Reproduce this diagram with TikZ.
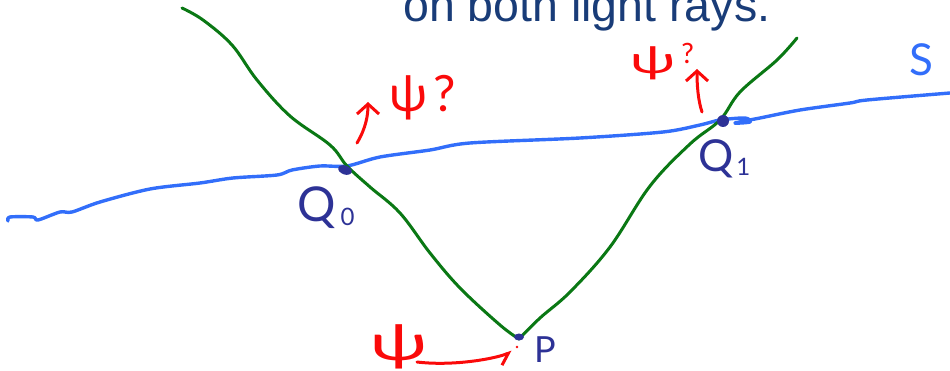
\documentclass[tikz,border=0pt]{standalone}
\usepackage{fontspec}
\setmainfont{Lato}
\newfontfamily\titlefont{Liberation Sans}
\usetikzlibrary{arrows.meta}
\definecolor{raygreen}{RGB}{10,120,20}
\definecolor{surfblue}{RGB}{50,110,250}
\definecolor{navy}{RGB}{45,50,150}
\definecolor{penred}{RGB}{250,10,10}
\definecolor{titleblue}{RGB}{25,60,120}
\begin{document}
\begin{tikzpicture}[x=1pt,y=-1pt,
  ray/.style={draw=raygreen, line width=3pt, line cap=round, line join=round},
  surf/.style={draw=surfblue, line width=3.4pt, line cap=round, line join=round},
  hand/.style={draw=penred, line width=3pt, line cap=round, line join=round},
  barb/.style={-{Straight Barb[length=10pt,width=22pt,line width=3pt]}},
  lbl/.style={text=navy, inner sep=0pt},
  redlbl/.style={text=penred, inner sep=0pt},
  blob/.style={fill=navy}]
\useasboundingbox (0,0) rectangle (950,371);
% title (cut at top, as in the reference)
\node[anchor=base west, inner sep=0pt, text=titleblue, font=\titlefont\fontsize{46.5}{46.5}\selectfont] (title) at (403,22) {on both light rays.};
% key points
\coordinate (Q0) at (347,166);
\coordinate (Q1) at (720,120);
\coordinate (P) at (519,339);
\coordinate (L0) at (182,8);
\coordinate (R0) at (797,38);
\coordinate (Sa) at (8,221);
\coordinate (Sb) at (950,93);
% surface S
\draw[surf] plot[smooth, tension=0.5] coordinates {(Sa) (10,217) (33,217) (38,220) (60,212) (72,212) (100,202) (150,189) (200,183) (233,178) (277,175) (292,170) (320,166) (Q0) (380,157) (430,150) (470,143) (580,138) (663,132) (700,125) (Q1) (745,118) (750,122) (735,123) (760,118) (800,110) (850,103) (867,100) (Sb)};
% light rays
\draw[ray] plot[smooth, tension=0.6] coordinates {(L0) (203,20) (232,45) (257,80) (290,116) (330,145) (Q0) (370,187) (400,213) (430,253) (460,288) (500,325) (P)};
\draw[ray] plot[smooth, tension=0.6] coordinates {(P) (540,318) (570,292) (610,247) (650,186) (690,144) (Q1) (740,92) (777,60) (R0)};
% blobs
\fill[blob, rotate around={-20:(345,170)}] (345,170) ellipse (7pt and 4.5pt);
\fill[blob] (723,121) circle (6pt);
\fill[blob] (519,337) ellipse (5pt and 3.5pt);
\fill[penred] (517,347) circle (1.3pt);
% labels
\node[lbl, anchor=base west, font=\fontsize{48}{48}\selectfont] (lQ0) at (297,222) {Q\hspace{5pt}\raisebox{-4pt}{\fontsize{24}{24}\selectfont 0}};
\node[lbl, anchor=base west, font=\fontsize{44}{44}\selectfont] (lQ1) at (698,172) {Q\hspace{3pt}\raisebox{-4pt}{\fontsize{24}{24}\selectfont 1}};
\node[lbl, font=\fontsize{36}{36}\selectfont] (lP) at (545,350) {P};
\node[lbl, text=surfblue, font=\fontsize{44}{44}\selectfont] (lS) at (921,60) {S};
% psi labels
\node[redlbl, font=\fontsize{50}{50}\selectfont] (psiQ0) at (423,98) {ψ\hspace{6pt}?};
\node[redlbl, font=\fontsize{44}{44}\selectfont] (psiQ1) at (662,62) {\scalebox{1.35}[0.85]{ψ}\hspace{6pt}\raisebox{10pt}{\fontsize{28}{28}\selectfont ?}};
\node[redlbl, font=\fontsize{50}{50}\selectfont] (psiP) at (399,347) {\scalebox{1.5}[1]{ψ}};
% arrows
\coordinate (a0s) at (357,143);
\coordinate (a0e) at (368,102);
\draw[hand, barb] (a0s) .. controls (366,128) and (368,115) .. (a0e);
\coordinate (a1s) at (702,112);
\coordinate (a1e) at (697,69);
\draw[hand, barb] (a1s) .. controls (698,100) and (697,85) .. (a1e);
\coordinate (a2s) at (417,362);
\coordinate (a2e) at (512,352);
\draw[hand, -{Straight Barb[length=10pt,width=18pt,line width=3pt,right]}] (a2s) .. controls (450,366) and (490,360) .. (a2e);
\end{tikzpicture}
\end{document}
